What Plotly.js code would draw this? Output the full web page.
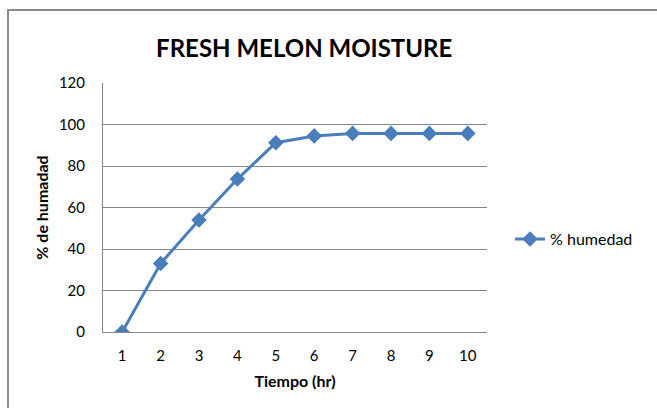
<!DOCTYPE html>
<html>
<head>
<meta charset="utf-8">
<script src="https://cdn.plot.ly/plotly-3.0.1.min.js"></script>
<style>
html,body{margin:0;padding:0;background:#fff;}
#wrap{position:relative;width:657px;height:408px;overflow:hidden;}
#frame{position:absolute;left:7px;top:9px;width:700px;height:450px;border-left:2px solid #8c8c8c;border-top:2px solid #8c8c8c;pointer-events:none;}
#chart{position:absolute;left:0;top:0;width:657px;height:408px;}
</style>
</head>
<body>
<div id="wrap">
<div id="chart"></div>
<div id="frame"></div>
</div>
<script>
const hours = [1, 2, 3, 4, 5, 6, 7, 8, 9, 10];
const humedad = [0, 33, 54, 73.7, 91.2, 94.5, 95.7, 95.7, 95.7, 95.7];
const seriesName = '% humedad';
const yTicks = [0, 20, 40, 60, 80, 100, 120];

const font = 'Lato, "Open Sans", sans-serif';
const trace = {
  x: hours, y: humedad, name: seriesName,
  type: 'scatter', mode: 'lines+markers',
  line: {color: '#4a7ebb', width: 3},
  marker: {symbol: 'diamond', size: 12, color: '#4a7ebb'}
};
const layout = {
  width: 657, height: 408,
  margin: {l: 103, r: 170, t: 83, b: 76},
  paper_bgcolor: 'rgba(0,0,0,0)', plot_bgcolor: '#fff',
  font: {family: font, size: 15, color: '#000'},
  title: {text: '<b>FRESH MELON MOISTURE</b>', font: {family: font, size: 24, color: '#000'},
          x: 0.463, xanchor: 'center', y: 0.88, yanchor: 'middle'},
  xaxis: {
    range: [0.5, 10.5], tickvals: hours, ticktext: hours.map(String),
    showgrid: false, zeroline: false, showline: true, linecolor: '#868686', linewidth: 1,
    ticks: '', tickfont: {size: 15}, ticklabelstandoff: 10,
    title: {text: '<b>Tiempo (hr)</b>', font: {size: 16}, standoff: 12}
  },
  yaxis: {
    range: [0, 120], tickvals: yTicks, showgrid: true, gridcolor: '#868686', gridwidth: 1,
    zeroline: false, showline: true, linecolor: '#868686', linewidth: 1,
    ticks: '', tickfont: {size: 15}, ticklabelstandoff: 14,
    title: {text: '<b>% de humadad</b>', font: {size: 16}, standoff: 6}
  },
  showlegend: true,
  legend: {x: 1.06, xanchor: 'left', y: 0.373, yanchor: 'middle', font: {size: 16},
           bgcolor: 'rgba(0,0,0,0)', itemwidth: 30, tracegroupgap: 0}
};
Plotly.newPlot('chart', [trace], layout, {displayModeBar: false, staticPlot: true});
</script>
</body>
</html>
